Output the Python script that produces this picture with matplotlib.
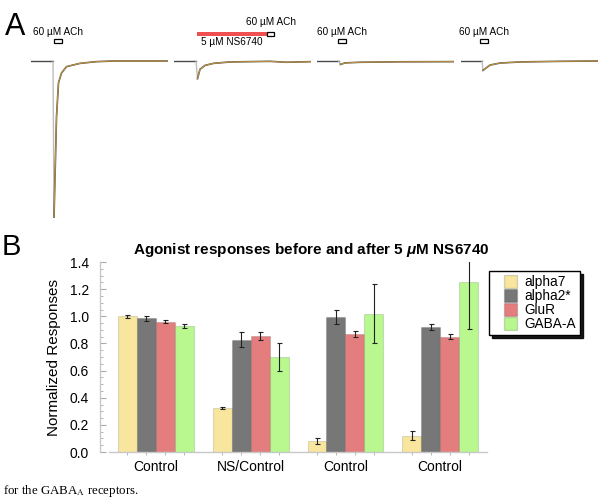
import matplotlib
matplotlib.use('Agg')
import numpy as np
import matplotlib.pyplot as plt
from matplotlib.patches import Rectangle, Patch
from matplotlib.legend_handler import HandlerPatch

plt.rcParams['font.family'] = ['Liberation Sans', 'DejaVu Sans']
plt.rcParams['mathtext.fontset'] = 'custom'
plt.rcParams['mathtext.it'] = 'Liberation Sans:bold:italic'

# ---- panel A: example current traces (time in s, normalized current) ----
trace_t = [
    [0, 4.4, 4.6, 5.1, 5.5, 6.1, 7.1, 9.8, 13.1, 16.4, 27.4],
    [0, 4.4, 4.7, 5.2, 6.2, 7.9, 11.2, 19.2, 22.5, 27.4],
    [0, 4.3, 4.7, 5.6, 8.6, 16.6, 27.4],
    [0, 4.2, 4.4, 5.8, 7.8, 11.8, 19.8, 27.4],
]
trace_i = [
    [0, 0, -1.0, -0.36, -0.14, -0.077, -0.036, -0.015, -0.004, 0, 0],
    [0, 0, -0.113, -0.053, -0.028, -0.015, -0.006, -0.002, -0.008, -0.004],
    [0, 0, -0.022, -0.012, -0.008, -0.005, -0.004],
    [0, 0, -0.06, -0.026, -0.013, -0.006, -0.002, 0],
]
peak_idx = [2, 2, 2, 2]
ach_on = [4.6, 18.6, 4.2, 3.8]
ach_off = [6.2, 20.0, 5.8, 5.4]
ns_on, ns_off = 4.6, 18.6
ach_label = '60 µM ACh'
ns_label = '5 µM NS6740'

# ---- panel B: normalized responses ----
groups = ['Control', 'NS/Control', 'Control', 'Control']
receptors = ['alpha7', 'alpha2*', 'GluR', 'GABA-A']
alpha7 = [1.00, 0.325, 0.08, 0.12]
alpha7_err = [0.01, 0.01, 0.02, 0.035]
alpha2 = [0.985, 0.826, 0.995, 0.92]
alpha2_err = [0.02, 0.055, 0.05, 0.02]
glur = [0.96, 0.855, 0.87, 0.85]
glur_err = [0.013, 0.03, 0.025, 0.02]
gaba = [0.93, 0.70, 1.02, 1.25]
gaba_err = [0.013, 0.10, 0.22, 0.34]
colors = ['#f8e69e', '#777777', '#e47d7d', '#b8f88e']

fig = plt.figure(figsize=(6, 5.03), dpi=100)

def fx(px):
    return px / 600.0

def fy(py):
    return 1 - py / 503.0

lefts = [31, 174, 317, 461]
trace_axes = []
for k in range(4):
    ax = fig.add_axes([fx(lefts[k]), fy(222), 137 / 600.0, 207 / 503.0])
    ax.set_xlim(0, 27.4)
    ax.set_ylim(-1.032, 0.295)
    ax.axis('off')
    t = trace_t[k]
    cur = trace_i[k]
    p = peak_idx[k]
    ax.plot(t[:p], cur[:p], color='#4a4a4a', lw=1.0)
    ax.plot(t[p - 1:p + 1], cur[p - 1:p + 1], color='#bdbdbd', lw=1.0)
    ax.plot(t[p:], cur[p:], color='#5a5040', lw=1.2)
    ax.plot(t[p:], cur[p:], color='#d9a640', lw=0.6, alpha=0.9)
    trace_axes.append(ax)

# stimulus marks
for k in range(4):
    ax = trace_axes[k]
    if k == 1:
        ax.add_patch(Rectangle((ns_on, 0.160), ns_off - ns_on, 0.026,
                               facecolor='#f05050', edgecolor='none', clip_on=False))
        ax.add_patch(Rectangle((ach_on[k], 0.162), ach_off[k] - ach_on[k], 0.022,
                               facecolor='white', edgecolor='black', lw=0.9, clip_on=False))
        ax.text((ach_on[k] + ach_off[k]) / 2, 0.25, ach_label, fontsize=7.2,
                ha='center', va='center', clip_on=False)
        ax.text((ns_on + ns_off) / 2, 0.122, ns_label, fontsize=7.2,
                ha='center', va='center', clip_on=False)
    else:
        ax.add_patch(Rectangle((ach_on[k], 0.116), ach_off[k] - ach_on[k], 0.024,
                               facecolor='white', edgecolor='black', lw=0.9, clip_on=False))
        ax.text((ach_on[k] + ach_off[k]) / 2, 0.183, ach_label, fontsize=7.2,
                ha='center', va='center', clip_on=False)

fig.text(fx(15), fy(27), 'A', fontsize=22, ha='center', va='center')
fig.text(fx(11), fy(247), 'B', fontsize=21, ha='center', va='center')

# bar chart
ax = fig.add_axes([fx(100), fy(452), 387 / 600.0, 190 / 503.0])
centers = np.arange(len(groups)) * 5.0
series = [alpha7, alpha2, glur, gaba]
errs = [alpha7_err, alpha2_err, glur_err, gaba_err]
for j in range(4):
    xs = centers + (j - 1.5)
    ax.bar(xs, series[j], width=1.0, color=colors[j],
           edgecolor=(0, 0, 0, 0.12), linewidth=0.8, label=receptors[j])
    ax.errorbar(xs, series[j], yerr=errs[j], fmt='none', ecolor='#222222',
                elinewidth=0.8, capsize=1.8, capthick=0.8)

ax.set_xlim(-2.95, 17.47)
ax.set_ylim(0, 1.4)
ax.set_yticks(np.arange(0, 1.41, 0.2))
ax.set_yticklabels(['%.1f' % v for v in np.arange(0, 1.41, 0.2)], fontsize=10)
ax.set_yticks(np.arange(0, 1.41, 0.05), minor=True)
ax.set_xticks(centers)
ax.set_xticklabels(groups, fontsize=10)
bar_x = np.concatenate([centers + (j - 1.5) for j in range(4)])
ax.set_xticks(bar_x, minor=True)
ax.tick_params(axis='x', which='major', length=0, pad=6)
ax.tick_params(axis='x', which='minor', length=2.5, direction='out', color='#aaaaaa')
ax.tick_params(axis='y', which='major', length=4, direction='in', color='#aaaaaa', pad=8)
ax.tick_params(axis='y', which='minor', length=2, direction='in', color='#aaaaaa')
for s in ['top', 'right']:
    ax.spines[s].set_visible(False)
for s in ['left', 'bottom']:
    ax.spines[s].set_color('#c8c8c8')
    ax.spines[s].set_linewidth(1.0)
ax.spines['bottom'].set_bounds(-2.45, 17.47)
ax.set_ylabel('Normalized Responses', fontsize=11, labelpad=6)
ax.set_title(r'Agonist responses before and after 5 $\mathit{\mu}$M NS6740',
             fontsize=11, fontweight='bold', pad=6, x=0.545)


def right_patch(legend, orig_handle, xdescent, ydescent, width, height, fontsize):
    w = height * 1.05
    return Rectangle((width - w - xdescent, -ydescent), w, height)


handles = [Patch(facecolor=colors[j], edgecolor=(0, 0, 0, 0.15), label=receptors[j])
           for j in range(4)]
leg = fig.legend(handles=handles, loc='upper left', bbox_to_anchor=(fx(489), fy(271)),
                 fontsize=9.8, frameon=True, fancybox=False,
                 shadow={'color': 'black', 'alpha': 0.9},
                 labelspacing=0.0, handlelength=1.75, handleheight=1.0,
                 handletextpad=0.55, borderpad=0.3, borderaxespad=0,
                 handler_map={Patch: HandlerPatch(patch_func=right_patch)})
leg.get_frame().set_edgecolor('black')
leg.get_frame().set_linewidth(1.0)

fig.text(fx(3), fy(491), r'for the GABA$_{\rm A}$ receptors.', fontsize=9.3,
         family='Liberation Serif', va='center', ha='left',
         math_fontfamily='stix')

fig.savefig('out.png', dpi=100)
